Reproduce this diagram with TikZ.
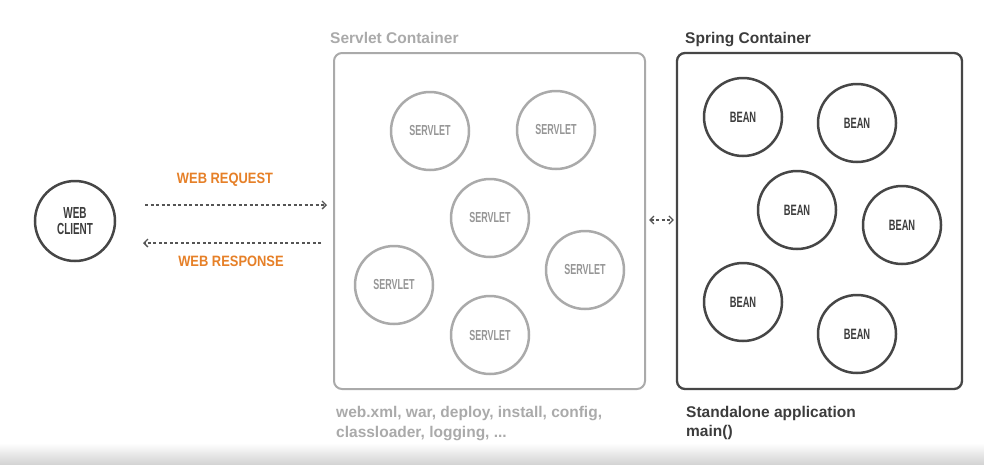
\documentclass[tikz,border=0pt]{standalone}
\usepackage{fontspec}
\setmainfont{Liberation Sans}
\newfontfamily\condfont[FakeStretch=0.62,UprightFont={* Bold}]{Liberation Sans}
\newfontfamily\orangefont[FakeStretch=0.86,UprightFont={* Bold}]{Liberation Sans}
\usetikzlibrary{arrows.meta}
\definecolor{darkline}{RGB}{70,70,70}
\definecolor{darktext}{RGB}{60,60,60}
\definecolor{servline}{RGB}{170,170,170}
\definecolor{servtext}{RGB}{150,150,150}
\definecolor{labelorange}{RGB}{230,128,40}
\definecolor{arrowgray}{RGB}{85,85,85}
\tikzset{
  servletc/.style={circle, draw=servline, line width=2.5pt, minimum size=78pt, inner sep=0pt,
    text=servtext, font=\condfont\fontsize{14.5}{14.5}\selectfont},
  beanc/.style={circle, draw=darkline, line width=2.5pt, minimum size=78pt, inner sep=0pt,
    text=darktext, font=\condfont\fontsize{15}{15}\selectfont},
  boxc/.style={rounded corners=8pt, line width=2pt, inner sep=0pt},
  titlec/.style={anchor=base west, inner sep=0pt, font=\bfseries\fontsize{15.5}{18}\selectfont},
  flowlabel/.style={inner sep=0pt, text=labelorange, font=\orangefont\fontsize{15}{15}\selectfont},
  dasharrow/.style={draw=arrowgray, line width=1.3pt, dash pattern=on 3pt off 2.5pt,
    arrows={-Straight Barb[length=4pt,width=8pt,line width=1.3pt]}},
}
\begin{document}
\begin{tikzpicture}[x=1pt,y=-1pt]
\useasboundingbox (0,0) rectangle (984,464);
\fill[white] (0,0) rectangle (984,464);
\shade[top color=white, bottom color=black!17] (0,443) rectangle (984,464);

% web client
\node[circle, draw=darkline, line width=2.5pt, minimum size=80pt, inner sep=0pt, text=darktext,
  align=center, font=\condfont\fontsize{16}{16}\selectfont] (client) at (75,221) {WEB\\CLIENT};

% servlet container
\node[boxc, draw=servline, minimum width=311pt, minimum height=336pt] (sc) at (489.5,221) {};
\node[titlec, text=servline] (sctitle) at (330,43) {Servlet Container};
\node[servletc] (s1) at (430,131) {SERVLET};
\node[servletc] (s2) at (556,130) {SERVLET};
\node[servletc] (s3) at (490,218) {SERVLET};
\node[servletc] (s4) at (394,285) {SERVLET};
\node[servletc] (s5) at (585,270) {SERVLET};
\node[servletc] (s6) at (490,335) {SERVLET};
\node[titlec, text=servline] (scnote1) at (336,417) {web.xml, war, deploy, install, config,};
\node[titlec, text=servline] (scnote2) at (336,437) {classloader, logging, ...};

% spring container
\node[boxc, draw=darkline, line width=2.3pt, minimum width=285pt, minimum height=336pt] (spc) at (819.5,221) {};
\node[titlec, text=darktext] (spctitle) at (685,43) {Spring Container};
\node[beanc] (b1) at (743,117) {BEAN};
\node[beanc] (b2) at (857,123) {BEAN};
\node[beanc] (b3) at (797,210) {BEAN};
\node[beanc] (b4) at (902,225) {BEAN};
\node[beanc] (b5) at (743,302) {BEAN};
\node[beanc] (b6) at (857,334) {BEAN};
\node[titlec, text=darktext] (spcnote1) at (686,417) {Standalone application};
\node[titlec, text=darktext] (spcnote2) at (686,436) {main()};

% flows
\coordinate (reqstart) at (145,205);
\coordinate (respend) at (143,243);
\draw[dasharrow] (reqstart) -- ([xshift=-6pt]sc.west |- reqstart);
\draw[dasharrow] ([xshift=-12pt]sc.west |- respend) -- (respend);
\node[flowlabel] (reqlabel) at (225,180) {WEB REQUEST};
\node[flowlabel] (resplabel) at (231,261) {WEB RESPONSE};

\coordinate (linky) at (0,220);
\draw[dasharrow, arrows={Straight Barb[length=4pt,width=8pt,line width=1.3pt]-Straight Barb[length=4pt,width=8pt,line width=1.3pt]}]
  ([xshift=3pt]sc.east |- linky) -- ([xshift=-2pt]spc.west |- linky);
\end{tikzpicture}
\end{document}
